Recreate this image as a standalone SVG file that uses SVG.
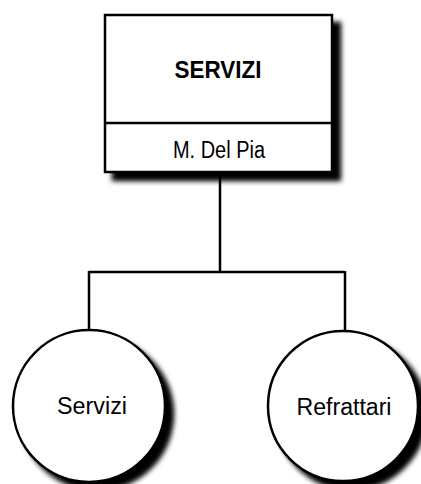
<svg xmlns="http://www.w3.org/2000/svg" width="421" height="484" viewBox="0 0 421 484">
<defs>
<filter id="sh" x="-20%" y="-20%" width="150%" height="150%">
<feGaussianBlur in="SourceAlpha" stdDeviation="2.5" result="b"/>
<feOffset in="b" dx="8" dy="8" result="o"/>
<feMerge><feMergeNode in="o"/><feMergeNode in="SourceGraphic"/></feMerge>
</filter>
</defs>
<style>
.shape{fill:#fff;stroke:#000;stroke-width:2.5}
.conn{fill:none;stroke:#000;stroke-width:2.5}
.t{font-family:"Liberation Sans",Arial,sans-serif;font-size:23px;fill:#000;text-anchor:middle}
.b{font-weight:bold;font-size:23px}
</style>
<g id="connectors">
<path class="conn" d="M220,172 V272 M89,272 H345 M89,271 V330 M345,271 V330"/>
</g>
<g id="node-servizi-top">
<rect class="shape" x="105" y="15" width="227" height="157" filter="url(#sh)"/>
<line class="conn" x1="105" y1="123" x2="332" y2="123"/>
<text class="t b" x="218" y="78" textLength="87" lengthAdjust="spacingAndGlyphs">SERVIZI</text>
<text class="t" x="219" y="158" textLength="92" lengthAdjust="spacingAndGlyphs">M. Del Pia</text>
</g>
<g id="node-servizi">
<circle class="shape" cx="89" cy="406" r="76" filter="url(#sh)"/>
<text class="t" x="92" y="414" textLength="70" lengthAdjust="spacingAndGlyphs">Servizi</text>
</g>
<g id="node-refrattari">
<circle class="shape" cx="343" cy="406" r="75" filter="url(#sh)"/>
<text class="t" x="344" y="415" textLength="95" lengthAdjust="spacingAndGlyphs">Refrattari</text>
</g>
</svg>
